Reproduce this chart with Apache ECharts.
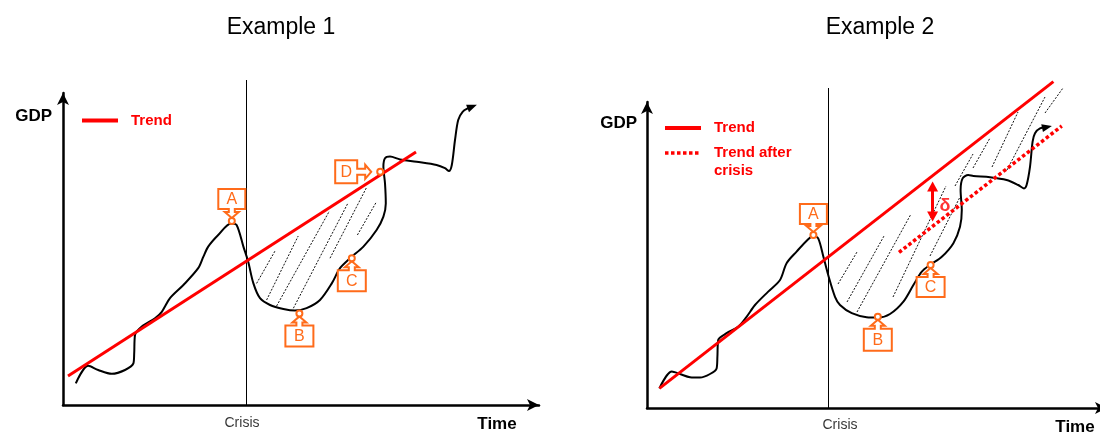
<!DOCTYPE html>
<html>
<head>
<meta charset="utf-8">
<script src="https://cdn.jsdelivr.net/npm/echarts@6/dist/echarts.min.js"></script>
<style>
  html, body { margin: 0; padding: 0; background: #ffffff; }
  #chart { width: 1100px; height: 432px; }
</style>
</head>
<body>
<div id="chart"></div>
<script>
// ---------- data (time / GDP in arbitrary index units) ----------
const panelTitles = ['Example 1', 'Example 2'];

// Example 1: GDP path
const time1 = [3.2, 6.3, 8.8, 12.2, 15.5, 17.6, 17.8, 18, 19.7, 23, 24.7, 26.75, 30.1, 33.8, 35.1, 36.3, 38.8, 42, 43.4, 45.1,
  46.3, 47.6, 49.25, 51.75, 55.1, 58, 60.9, 64.25, 67.2, 69.25, 71.75, 75.1, 78.4, 80.1, 80.7, 80.5, 80.1, 80.5, 81.75, 84.25,
  88.4, 93.4, 95.5, 96.5, 97.2, 98, 98.8, 99.9, 101.3, 102.3];
const gdp1 = [5.4, 9.8, 8.75, 7.8, 8.75, 10.4, 12.9, 17.5, 19.6, 21.7, 23.3, 26.7, 30, 34.2, 37.1, 39.6, 42.5, 45.4, 45, 39.6,
  35.8, 30.4, 26.7, 25, 24, 23.6, 24.2, 26.25, 30.4, 34.2, 36.7, 39.6, 43.75, 47.1, 50.4, 55.4, 59.6, 61.7, 62.1, 61.4,
  60.8, 60, 59.2, 58.5, 60, 66.25, 71.25, 73.3, 74.2, 74.6];
const trend1Time = [1.25, 88.25];
const trend1Gdp = [7.25, 63.25];
const crisis1 = 45.875;
// gap between trend and path after the crisis: [t0, g0, t1, g1]
const gap1 = [[48.4, 30.4, 53, 38.5], [50.9, 26.25, 58.8, 42.25], [53.4, 24.75, 66.6, 48.5],
  [57.6, 24.2, 71.3, 50.6], [66.75, 36.7, 75.9, 54.4], [73.6, 42.5, 78.25, 50.6]];
const marks1Letter = ['A', 'B', 'C', 'D'];
const marks1Time = [42.2, 59.1, 72.2, 79.3];
const marks1Gdp = [46, 22.9, 36.7, 58.3];

// Example 2: GDP path
const time2 = [3.1, 6.2, 8.25, 10.75, 13.25, 15.75, 17.4, 17.6, 17.8, 19.9, 22.8, 24.9, 27, 30.3, 33.25, 34.9, 37.4, 40.3, 41.6, 42.8,
  44.1, 45.3, 47, 48.25, 51.2, 54.9, 57.8, 60.75, 64.1, 66.6, 68.7, 70.75, 73.7, 76.6, 78.25, 78.7, 78.4, 78.9, 80.3, 81.6,
  85.75, 89.9, 92.8, 94.25, 94.9, 95.75, 96.4, 97, 98.25, 100];
const gdp2 = [4.9, 9.1, 8.5, 7.7, 7.6, 8.5, 9.9, 12.8, 17, 18.7, 20.3, 22.8, 25.75, 29.1, 32, 36.2, 39.1, 42.2, 43, 42.4,
  37.8, 33.25, 27.8, 25.75, 23.7, 22.7, 22.6, 23.5, 26.6, 30.75, 34.1, 35.75, 37.8, 41.2, 45.3, 49.5, 54.5, 57.4, 58.25, 58,
  57.7, 57, 55.75, 54.9, 55.75, 60.3, 66.6, 68.7, 69.9, 70.25];
const trend2Time = [3.1, 101.6];
const trend2Gdp = [4.9, 81.6];
const trendAfterTime = [63, 103.7];
const trendAfterGdp = [38.9, 70.5];
const crisis2 = 45.375;
const gap2 = [[47.75, 31, 52.5, 39], [50, 26.5, 59.25, 43], [52.5, 24, 66, 48.5], [61.5, 27.75, 74.75, 55.5],
  [70.75, 38, 78.25, 52.75], [77, 55.5, 81.5, 63.5], [81.5, 60, 85.75, 67.5], [86.25, 60.25, 92.75, 74],
  [90, 59.5, 99.5, 77.75], [99.5, 73.75, 104, 80]];
const marks2Letter = ['A', 'B', 'C'];
const marks2Time = [41.6, 57.7, 70.9];
const marks2Gdp = [43.25, 22.8, 35.75];
const deltaTime = 71.4;
const deltaGdp = [55.35, 47.85];

// ---------- styling ----------
const FONT = '"Liberation Sans", Arial, Helvetica, sans-serif';
const RED = '#ff0000';
const ORANGE = '#ff6b1a';

// legend icons: a solid bar and a row of square dots
const SOLID_ICON = 'path://M0,0H36V4H0Z';
const DOTTED_ICON = 'path://' + [0, 6, 12, 18, 24, 30].map(x => 'M' + x + ',0h3.5v3.5h-3.5z').join(' ');

// callout shapes: direction of the arrow and box proportions (pixels)
const calloutShape1 = [
  { dir: 'down', reach: 3, gap: 9, depth: 20, half: 13.5 },
  { dir: 'up', reach: 3, gap: 9, depth: 21, half: 14 },
  { dir: 'up', reach: 3, gap: 9, depth: 21, half: 14 },
  { dir: 'right', reach: 9, gap: 14, depth: 22, half: 11.5 }
];
const calloutShape2 = [
  { dir: 'down', reach: 3, gap: 8, depth: 20, half: 13.5 },
  { dir: 'up', reach: 3, gap: 9, depth: 22, half: 14 },
  { dir: 'up', reach: 3, gap: 9, depth: 20, half: 14 }
];

const zip = (a, b) => a.map((v, i) => [v, b[i]]);

function pathData(t, g, rotate) {
  const pts = zip(t, g);
  const last = pts.pop();
  pts.push({
    value: last, symbol: 'triangle', symbolSize: [8, 10], symbolRotate: rotate,
    itemStyle: { color: '#000' }
  });
  return pts;
}

function calloutRenderer(letters, shapes) {
  return function (params, api) {
    const i = params.dataIndex;
    const s = shapes[i];
    const p = api.coord([api.value(0), api.value(1)]);
    let tip, map;
    if (s.dir === 'up') {
      tip = [p[0], p[1] + s.reach];
      map = (u, v) => [tip[0] + u, tip[1] + v];
    } else if (s.dir === 'down') {
      tip = [p[0], p[1] - s.reach];
      map = (u, v) => [tip[0] + u, tip[1] - v];
    } else {
      tip = [p[0] - s.reach, p[1]];
      map = (u, v) => [tip[0] - v, tip[1] + u];
    }
    const hh = 7, hl = 6, sh = 3, g = s.gap, d = s.depth, hw = s.half;
    const outline = [[0, 0], [hh, hl], [sh, hl], [sh, g], [hw, g], [hw, g + d], [-hw, g + d], [-hw, g],
      [-sh, g], [-sh, hl], [-hh, hl]].map(q => map(q[0], q[1]));
    const c = map(0, g + d / 2);
    return {
      type: 'group',
      children: [
        { type: 'polygon', shape: { points: outline },
          style: { fill: '#ffffff', stroke: ORANGE, lineWidth: 2 } },
        { type: 'circle', shape: { cx: p[0], cy: p[1], r: 3 },
          style: { fill: '#ffffff', stroke: ORANGE, lineWidth: 2 } },
        { type: 'text', x: c[0], y: c[1] + 1,
          style: { text: letters[i], fill: ORANGE, font: '16px ' + FONT, align: 'center', verticalAlign: 'middle' } }
      ]
    };
  };
}

function axisPair(gridIndex, xMax, yMax, nameGapX, nameGapY, gdpPadRight) {
  const line = { show: true, onZero: false, symbol: ['none', 'arrow'], symbolSize: [9, 12],
    lineStyle: { color: '#000', width: 2.5 } };
  return {
    x: {
      type: 'value', gridIndex, min: 0, max: xMax,
      axisLine: line, axisTick: { show: false }, axisLabel: { show: false }, splitLine: { show: false },
      // the empty first line drops "Time" below the axis line
      name: '\nTime', nameLocation: 'end', nameGap: nameGapX, nameMoveOverlap: false,
      nameTextStyle: { fontFamily: FONT, fontSize: 17, fontWeight: 'bold', color: '#000',
        align: 'center', verticalAlign: 'middle', lineHeight: 38 }
    },
    y: {
      type: 'value', gridIndex, min: 0, max: yMax,
      axisLine: line, axisTick: { show: false }, axisLabel: { show: false }, splitLine: { show: false },
      name: 'GDP', nameLocation: 'end', nameGap: nameGapY, nameMoveOverlap: false,
      nameTextStyle: { fontFamily: FONT, fontSize: 17, fontWeight: 'bold', color: '#000',
        align: 'right', verticalAlign: 'middle', padding: [0, gdpPadRight, 0, 0] }
    }
  };
}

const ax1 = axisPair(0, 119, 78, -42, -23, 11);
const ax2 = axisPair(1, 115, 76.5, -32, -21, 10);

const legendText = { color: RED, fontFamily: FONT, fontSize: 15, fontWeight: 'bold', lineHeight: 18, padding: [0, 0, 0, 8] };

const common = { silent: true, animation: false, clip: false };

const series = [
  // ----- Example 1 -----
  Object.assign({ type: 'lines', coordinateSystem: 'cartesian2d', xAxisIndex: 0, yAxisIndex: 0, z: 1,
    data: gap1.map(h => ({ coords: [[h[0], h[1]], [h[2], h[3]]] })),
    lineStyle: { color: '#111', width: 1, type: [2, 1.5], opacity: 1 } }, common),
  Object.assign({ type: 'line', name: 'crisis-1', xAxisIndex: 0, yAxisIndex: 0, z: 2, symbol: 'none',
    data: [[crisis1, 0], [crisis1, 81.25]], lineStyle: { color: '#000', width: 1 } }, common),
  Object.assign({ type: 'scatter', xAxisIndex: 0, yAxisIndex: 0, symbolSize: 0, data: [[crisis1, 0]],
    label: { show: true, position: 'bottom', distance: 11, offset: [-4.5, 0], formatter: 'Crisis',
      fontFamily: FONT, fontSize: 14, color: '#000' } }, common),
  Object.assign({ type: 'line', name: 'GDP-1', xAxisIndex: 0, yAxisIndex: 0, z: 3, symbol: 'none', smooth: 0.3,
    data: pathData(time1, gdp1, -69), lineStyle: { color: '#000', width: 2 } }, common),
  Object.assign({ type: 'line', name: 'Trend', xAxisIndex: 0, yAxisIndex: 0, z: 4, symbol: 'none',
    data: zip(trend1Time, trend1Gdp), itemStyle: { color: RED }, lineStyle: { color: RED, width: 3 } }, common),
  Object.assign({ type: 'custom', coordinateSystem: 'cartesian2d', xAxisIndex: 0, yAxisIndex: 0, z: 10,
    data: zip(marks1Time, marks1Gdp), renderItem: calloutRenderer(marks1Letter, calloutShape1) }, common),

  // ----- Example 2 -----
  Object.assign({ type: 'lines', coordinateSystem: 'cartesian2d', xAxisIndex: 1, yAxisIndex: 1, z: 1,
    data: gap2.map(h => ({ coords: [[h[0], h[1]], [h[2], h[3]]] })),
    lineStyle: { color: '#111', width: 1, type: [2, 1.5], opacity: 1 } }, common),
  Object.assign({ type: 'line', name: 'crisis-2', xAxisIndex: 1, yAxisIndex: 1, z: 2, symbol: 'none',
    data: [[crisis2, 0], [crisis2, 80]], lineStyle: { color: '#000', width: 1 } }, common),
  Object.assign({ type: 'scatter', xAxisIndex: 1, yAxisIndex: 1, symbolSize: 0, data: [[crisis2, 0]],
    label: { show: true, position: 'bottom', distance: 10, offset: [11.5, 0], formatter: 'Crisis',
      fontFamily: FONT, fontSize: 14, color: '#000' } }, common),
  Object.assign({ type: 'line', name: 'GDP-2', xAxisIndex: 1, yAxisIndex: 1, z: 3, symbol: 'none', smooth: 0.3,
    data: pathData(time2, gdp2, -78), lineStyle: { color: '#000', width: 2 } }, common),
  Object.assign({ type: 'line', name: 'Trend', xAxisIndex: 1, yAxisIndex: 1, z: 4, symbol: 'none',
    data: zip(trend2Time, trend2Gdp), itemStyle: { color: RED }, lineStyle: { color: RED, width: 3 } }, common),
  Object.assign({ type: 'line', name: 'Trend after crisis', xAxisIndex: 1, yAxisIndex: 1, z: 4, symbol: 'none',
    data: zip(trendAfterTime, trendAfterGdp), itemStyle: { color: RED },
    lineStyle: { color: RED, width: 3.5, type: [3.5, 2.5] } }, common),
  Object.assign({ type: 'scatter', xAxisIndex: 1, yAxisIndex: 1, z: 6, symbolSize: 0,
    data: [[deltaTime + 3.1, (deltaGdp[0] + deltaGdp[1]) / 2 - 1.2]],
    label: { show: true, position: 'inside', formatter: 'δ', fontFamily: FONT, fontSize: 18, fontWeight: 'bold', color: RED },
    markLine: { silent: true, animation: false, symbol: ['triangle', 'triangle'], symbolSize: [11, 10],
      lineStyle: { color: RED, width: 3, type: 'solid' }, label: { show: false },
      data: [[{ coord: [deltaTime, deltaGdp[0]] }, { coord: [deltaTime, deltaGdp[1]] }]] } }, common),
  Object.assign({ type: 'custom', coordinateSystem: 'cartesian2d', xAxisIndex: 1, yAxisIndex: 1, z: 10,
    data: zip(marks2Time, marks2Gdp), renderItem: calloutRenderer(marks2Letter, calloutShape2) }, common)
];

const chart = echarts.init(document.getElementById('chart'), null, { renderer: 'canvas', width: 1100, height: 432 });
chart.setOption({
  backgroundColor: '#ffffff',
  animation: false,
  grid: [
    { left: 63, top: 93, width: 476, height: 312, outerBoundsMode: 'none', containLabel: false },
    { left: 647, top: 102, width: 460, height: 306, outerBoundsMode: 'none', containLabel: false }
  ],
  xAxis: [ax1.x, ax2.x],
  yAxis: [ax1.y, ax2.y],
  legend: [
    { left: 82, top: 111.5, orient: 'vertical', padding: 0, itemWidth: 36, itemHeight: 4, selectedMode: false,
      icon: SOLID_ICON, data: ['Trend'], textStyle: legendText },
    { left: 665, top: 119, orient: 'vertical', padding: 0, itemWidth: 36, itemHeight: 4, selectedMode: false,
      icon: SOLID_ICON, data: ['Trend'], textStyle: legendText },
    { left: 665, top: 126, orient: 'vertical', padding: 0, itemWidth: 33.5, itemHeight: 3.5, selectedMode: false,
      icon: DOTTED_ICON, data: ['Trend after crisis'], formatter: () => '\nTrend after\ncrisis',
      textStyle: Object.assign({}, legendText, { padding: [0, 0, 0, 10.5] }) }
  ],
  graphic: panelTitles.map((t, i) => ({
    type: 'text', x: i === 0 ? 281 : 880, y: 28, silent: true,
    style: { text: t, font: '23px ' + FONT, fill: '#000', align: 'center', verticalAlign: 'middle' }
  })),
  series
});
</script>
</body>
</html>
